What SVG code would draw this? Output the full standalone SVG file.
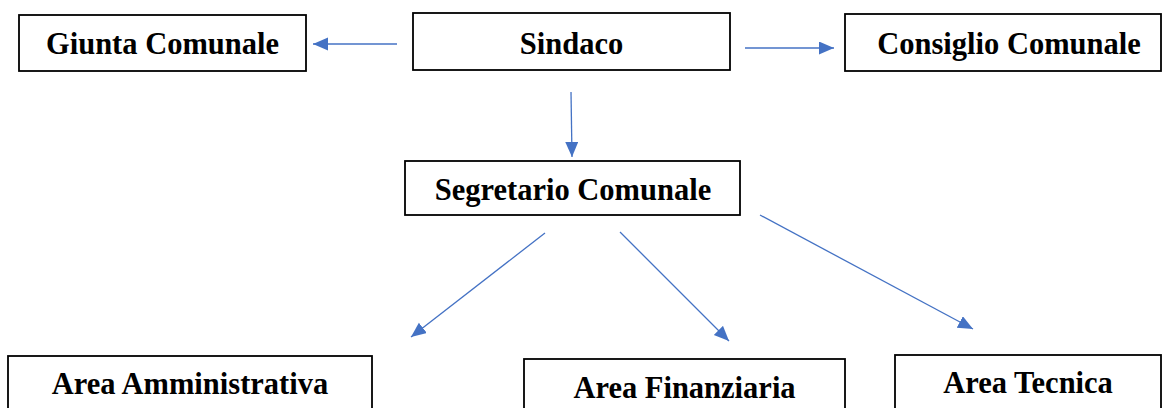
<svg xmlns="http://www.w3.org/2000/svg" width="1163" height="408" viewBox="0 0 1163 408">
  <style>
    .box { fill: #ffffff; stroke: #000000; stroke-width: 1.8; }
    .lbl { font-family: "Liberation Serif", "Times New Roman", serif; font-weight: bold; font-size: 30.5px; fill: #000000; text-anchor: middle; }
    .conn { stroke: #4472C4; stroke-width: 1.3; fill: none; marker-end: url(#arrow); }
  </style>
  <defs>
    <marker id="arrow" markerUnits="userSpaceOnUse" markerWidth="16" markerHeight="14" refX="15" refY="6.5" orient="auto">
      <path d="M0,0 L15,6.5 L0,13 Z" fill="#4472C4"/>
    </marker>
  </defs>
  <rect width="1163" height="408" fill="#ffffff"/>

  <g id="giunta">
    <rect class="box" x="19" y="15" width="287" height="56"/>
    <text class="lbl" x="162.5" y="54">Giunta Comunale</text>
  </g>
  <g id="sindaco">
    <rect class="box" x="413" y="13" width="317" height="57"/>
    <text class="lbl" x="571.5" y="54">Sindaco</text>
  </g>
  <g id="consiglio">
    <rect class="box" x="845" y="14" width="316" height="57"/>
    <text class="lbl" x="1009" y="54">Consiglio Comunale</text>
  </g>
  <g id="segretario">
    <rect class="box" x="405" y="161" width="335" height="54"/>
    <text class="lbl" x="573" y="200">Segretario Comunale</text>
  </g>
  <g id="amministrativa">
    <rect class="box" x="8" y="356" width="364" height="70"/>
    <text class="lbl" x="190" y="394">Area Amministrativa</text>
  </g>
  <g id="finanziaria">
    <rect class="box" x="524" y="359" width="321" height="70"/>
    <text class="lbl" x="684.5" y="398">Area Finanziaria</text>
  </g>
  <g id="tecnica">
    <rect class="box" x="895" y="355" width="266" height="70"/>
    <text class="lbl" x="1028" y="393">Area Tecnica</text>
  </g>

  <g id="connectors">
    <line class="conn" x1="397" y1="44" x2="313" y2="44"/>
    <line class="conn" x1="745" y1="48" x2="834" y2="48"/>
    <line class="conn" x1="571" y1="92" x2="572" y2="157"/>
    <line class="conn" x1="545" y1="233" x2="411" y2="337"/>
    <line class="conn" x1="620" y1="232" x2="729" y2="341"/>
    <line class="conn" x1="760" y1="215" x2="973" y2="329"/>
  </g>
</svg>
